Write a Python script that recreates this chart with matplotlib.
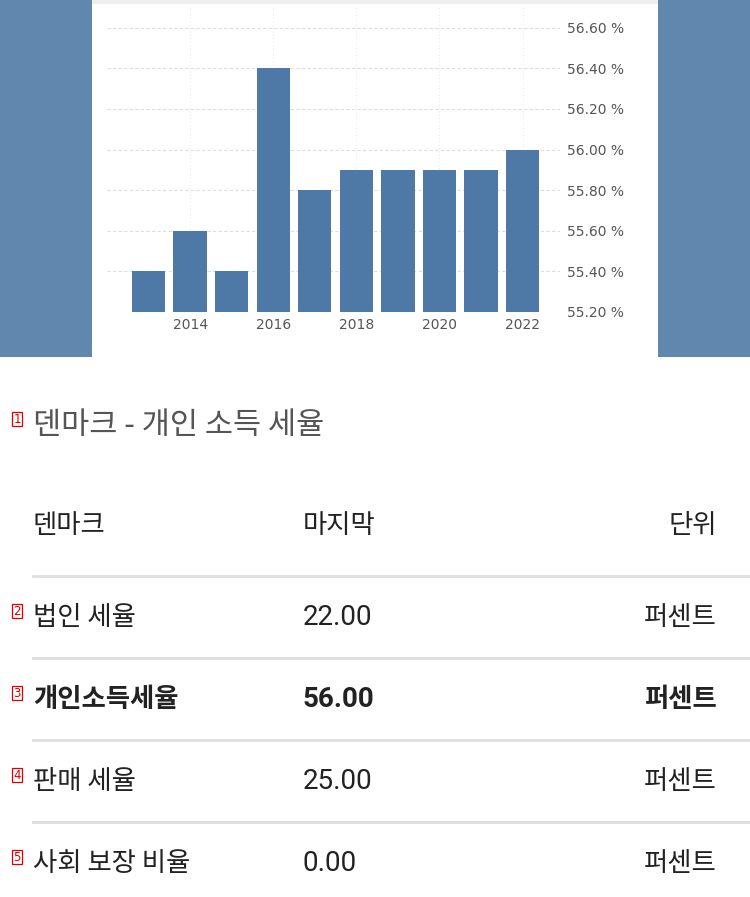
import matplotlib
matplotlib.use("Agg")
import matplotlib.pyplot as plt
from matplotlib.patches import Rectangle
from matplotlib.lines import Line2D

plt.rcParams['font.family'] = ['Noto Sans CJK KR', 'DejaVu Sans']

# chart data
years = [2013, 2014, 2015, 2016, 2017, 2018, 2019, 2020, 2021, 2022]
rates = [55.4, 55.6, 55.4, 56.4, 55.8, 55.9, 55.9, 55.9, 55.9, 56.0]
year_ticks = [2014, 2016, 2018, 2020, 2022]
rate_ticks = [55.2, 55.4, 55.6, 55.8, 56.0, 56.2, 56.4, 56.6]

# table data
title = '덴마크 - 개인 소득 세율'
header = ['덴마크', '마지막', '단위']
row_names = ['법인 세율', '개인소득세율', '판매 세율', '사회 보장 비율']
row_last = ['22.00', '56.00', '25.00', '0.00']
row_unit = ['퍼센트', '퍼센트', '퍼센트', '퍼센트']
row_bold = [False, True, False, False]

W, H = 750, 897
fig = plt.figure(figsize=(7.5, 8.97), dpi=100)
fig.patch.set_facecolor('white')


def fx(px):
    return px / W


def fy(py):
    return 1 - py / H


side = '#6088ae'
fig.add_artist(Rectangle((0, fy(357)), fx(92), 357 / H, transform=fig.transFigure,
                         facecolor=side, edgecolor='none', zorder=0))
fig.add_artist(Rectangle((fx(658), fy(357)), fx(92), 357 / H, transform=fig.transFigure,
                         facecolor=side, edgecolor='none', zorder=0))
fig.add_artist(Rectangle((fx(92), fy(4)), fx(566), 4 / H, transform=fig.transFigure,
                         facecolor='#eeeeee', edgecolor='none', zorder=0))

# bar chart
ax = fig.add_axes([fx(107), fy(312), fx(560 - 107), (312 - 7.5) / H])
ax.set_facecolor('none')
ax.bar(years, rates, width=0.8, bottom=0, color='#4e79a7', zorder=2)
ax.set_ylim(55.2, 56.7)
ax.set_xlim(2012.0, 2022.9)
ax.set_yticks(rate_ticks)
ax.set_yticklabels([f'{v:.2f} %' for v in rate_ticks])
ax.set_xticks(year_ticks)
ax.yaxis.tick_right()
ax.tick_params(axis='y', length=0, pad=5, labelsize=10, labelcolor='#555555')
ax.tick_params(axis='x', length=0, pad=4, labelsize=10, labelcolor='#555555')
for lab in ax.get_xticklabels() + ax.get_yticklabels():
    lab.set_family(['Liberation Sans Narrow', 'DejaVu Sans'])
ax.grid(axis='y', color='#dddddd', linestyle=(0, (3, 2)), linewidth=0.8, zorder=0)
ax.grid(axis='x', color='#eaeaea', linestyle=(0, (1, 2)), linewidth=0.8, zorder=0)
for s in ax.spines.values():
    s.set_visible(False)


def marker(num, py):
    fig.text(fx(17), fy(py), str(num), ha='center', va='center', fontsize=8.5,
             color='#dd0000', family=['DejaVu Sans'],
             bbox=dict(boxstyle='square,pad=0.08', facecolor='white',
                       edgecolor='#dd0000', linewidth=0.9))


# title
marker(1, 419)
fig.text(fx(33), fy(425), title, ha='left', va='center', fontsize=22, color='#555555')

fs = 19
# header
hy = 525
fig.text(fx(33), fy(hy), header[0], ha='left', va='center', fontsize=fs, color='#222222')
fig.text(fx(303), fy(hy), header[1], ha='left', va='center', fontsize=fs, color='#222222')
fig.text(fx(717), fy(hy), header[2], ha='right', va='center', fontsize=fs, color='#222222')

line_ys = [576, 658, 740, 822]
for ly in line_ys:
    fig.add_artist(Line2D([fx(33), 1], [fy(ly), fy(ly)], transform=fig.transFigure,
                          color='#dedede', linewidth=2))

row_ys = [617, 699, 781, 863]
for i, ry in enumerate(row_ys):
    wt = 'bold' if row_bold[i] else 'normal'
    marker(i + 2, ry - 6)
    fig.text(fx(33), fy(ry), row_names[i], ha='left', va='center', fontsize=fs,
             color='#222222', weight=wt)
    fig.text(fx(303), fy(ry), row_last[i], ha='left', va='center', fontsize=20,
             color='#222222', weight=wt, family=['Roboto', 'DejaVu Sans'])
    fig.text(fx(717), fy(ry), row_unit[i], ha='right', va='center', fontsize=fs,
             color='#222222', weight=wt)

fig.savefig('out.png', dpi=100)
